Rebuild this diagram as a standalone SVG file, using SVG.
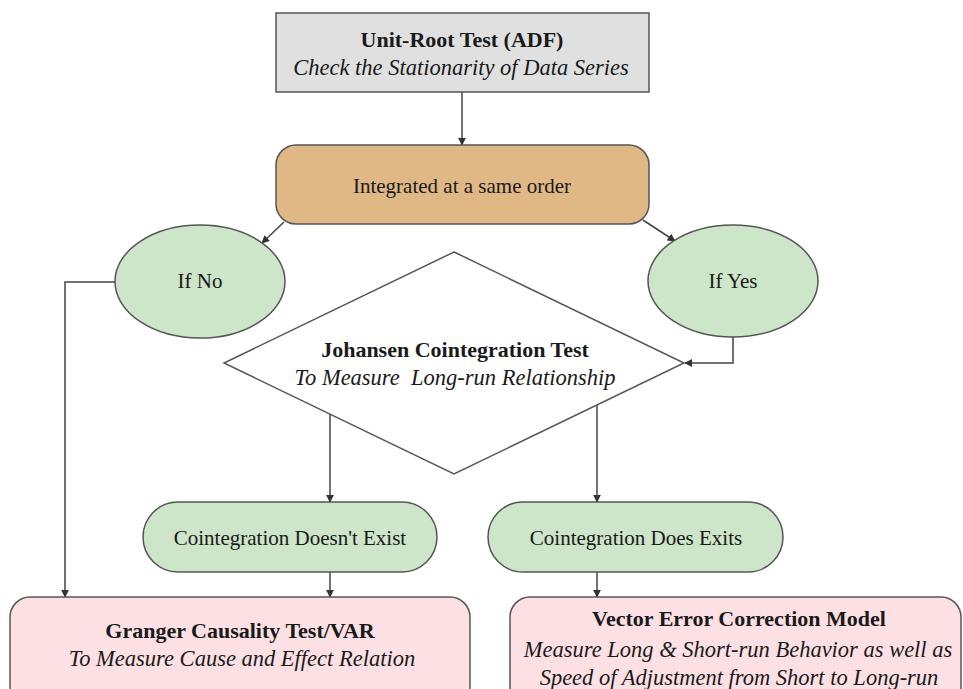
<svg xmlns="http://www.w3.org/2000/svg" width="963" height="689" viewBox="0 0 963 689">
  <style>
    .box { stroke: #555555; stroke-width: 1.5; }
    .gray { fill: #e0e0e0; }
    .tan { fill: #dfb886; }
    .green { fill: #cde5c8; }
    .pink { fill: #fde0e4; }
    .diamond { fill: #ffffff; stroke: #555555; stroke-width: 1.5; }
    text { font-family: 'Liberation Serif', 'DejaVu Serif', serif; fill: #1a1a1a; text-anchor: middle; }
    .reg { font-size: 21px; }
    .bold { font-size: 22px; font-weight: bold; }
    .ital { font-size: 22.5px; font-style: italic; }
    .link { fill: none; stroke: #444444; stroke-width: 1.5; marker-end: url(#arrow); }
  </style>
  <defs>
    <marker id="arrow" viewBox="0 0 10 10" refX="9" refY="5" markerWidth="8" markerHeight="8" markerUnits="userSpaceOnUse" orient="auto">
      <path d="M0,0 L10,5 L0,10 Z" fill="#333333"/>
    </marker>
  </defs>

  <rect width="963" height="689" fill="#ffffff"/>

  <!-- connectors -->
  <g id="connectors">
    <line class="link" x1="462" y1="92" x2="462" y2="145"/>
    <line class="link" x1="284" y1="222" x2="262" y2="243"/>
    <line class="link" x1="643" y1="220" x2="675" y2="241"/>
    <polyline class="link" points="733,337 733,363 685,363"/>
    <polyline class="link" points="115,282 65,282 65,597"/>
    <line class="link" x1="330" y1="414" x2="330" y2="502"/>
    <line class="link" x1="597" y1="405" x2="597" y2="502"/>
    <line class="link" x1="330" y1="572" x2="330" y2="597"/>
    <line class="link" x1="597" y1="572" x2="597" y2="597"/>
  </g>

  <!-- unit root test -->
  <g id="unit-root">
    <rect class="box gray" x="276" y="13" width="373" height="79"/>
    <text class="bold" x="462" y="47" font-family="Liberation Serif, serif">Unit-Root Test (ADF)</text>
    <text class="ital" x="461" y="75" font-family="Liberation Serif, serif">Check the Stationarity of Data Series</text>
  </g>

  <!-- integration order -->
  <g id="integrated">
    <rect class="box tan" x="276" y="145" width="373" height="79" rx="20" ry="20"/>
    <text class="reg" x="462" y="193">Integrated at a same order</text>
  </g>

  <!-- decision outcomes -->
  <g id="if-no">
    <ellipse class="box green" cx="200" cy="281.5" rx="85" ry="56.5"/>
    <text class="reg" x="200" y="288">If No</text>
  </g>
  <g id="if-yes">
    <ellipse class="box green" cx="733" cy="281" rx="85" ry="56"/>
    <text class="reg" x="733" y="288">If Yes</text>
  </g>

  <!-- johansen test -->
  <g id="johansen">
    <polygon class="diamond" points="454,252 684,363 454,474 224,363"/>
    <text class="bold" x="455" y="357">Johansen Cointegration Test</text>
    <text class="ital" x="455" y="385" xml:space="preserve">To Measure  Long-run Relationship</text>
  </g>

  <!-- cointegration results -->
  <g id="no-cointegration">
    <rect class="box green" x="143" y="502" width="294" height="70" rx="35" ry="35"/>
    <text class="reg" x="290" y="545">Cointegration Doesn't Exist</text>
  </g>
  <g id="cointegration">
    <rect class="box green" x="488" y="502" width="295" height="70" rx="35" ry="35"/>
    <text class="reg" x="636" y="545">Cointegration Does Exits</text>
  </g>

  <!-- models -->
  <g id="granger">
    <rect class="box pink" x="10" y="597" width="460" height="110" rx="20" ry="20"/>
    <text class="bold" x="240" y="638">Granger Causality Test/VAR</text>
    <text class="ital" x="242" y="666">To Measure Cause and Effect Relation</text>
  </g>
  <g id="vecm">
    <rect class="box pink" x="510" y="597" width="451" height="110" rx="20" ry="20"/>
    <text class="bold" x="739" y="626">Vector Error Correction Model</text>
    <text class="ital" x="738" y="657">Measure Long &amp; Short-run Behavior as well as</text>
    <text class="ital" x="739" y="685">Speed of Adjustment from Short to Long-run</text>
  </g>
</svg>
